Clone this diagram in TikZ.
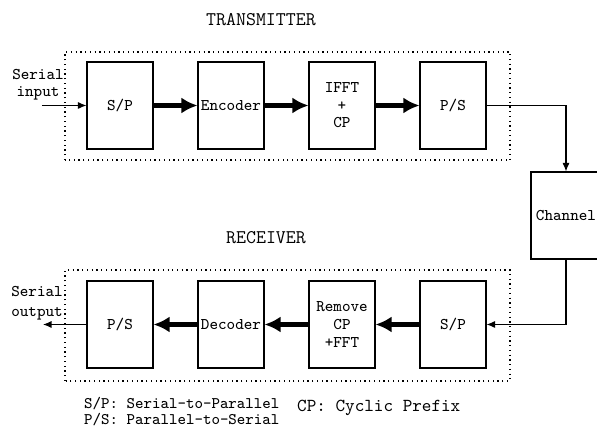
\documentclass[tikz,border=0pt]{standalone}
\usetikzlibrary{arrows.meta}

\newcommand\blockfont{\ttfamily\fontsize{9.3}{10}\selectfont}
\newcommand\titlefont{\ttfamily\fontsize{11}{12}\selectfont}

\tikzset{
  block/.style={draw, line width=0.6pt, minimum width=1.32cm, minimum height=1.74cm, inner sep=1pt, align=center},
  bus/.style={line width=2.8pt, -{Latex[length=0.32cm,width=0.32cm]}},
  wire/.style={line width=0.6pt, -{Latex[length=0.17cm,width=0.14cm]}},
  frame/.style={dotted, line width=0.7pt},
}

\begin{document}
\begin{tikzpicture}[font=\blockfont]
\useasboundingbox (0,0) rectangle (11.94,8.52);

% transmitter
\begin{scope}
\draw[frame] (1.30,5.32) rectangle (10.20,7.48);
\node (txlabel) at (5.22,8.12) {\titlefont TRANSMITTER};
\node[block] (sp1) at (2.40,6.41) {S/P};
\node[block] (enc) at (4.62,6.41) {Encoder};
\node[block] (ifft) at (6.84,6.41) {IFFT\\+\\CP};
\node[block] (ps1) at (9.06,6.41) {P/S};
\node[align=center, font=\ttfamily\fontsize{9.3}{9.6}\selectfont] (inlabel) at (0.76,6.82) {Serial\\input};
\coordinate (in) at (0.84,6.41);
\draw[wire] (in) -- (sp1);
\draw[bus] (sp1) -- (enc);
\draw[bus] (enc) -- (ifft);
\draw[bus] (ifft) -- (ps1);
\end{scope}

% channel
\node[block, minimum width=1.40cm] (chan) at (11.32,4.21) {Channel};
\draw[wire] (ps1.east) -| (chan.north);

% receiver
\begin{scope}
\draw[frame] (1.30,0.90) rectangle (10.20,3.12);
\node (rxlabel) at (5.32,3.76) {\titlefont RECEIVER};
\node[block] (ps2) at (2.40,2.03) {P/S};
\node[block] (dec) at (4.62,2.03) {Decoder};
\node[block] (rmcp) at (6.84,2.03) {Remove\\CP\\+FFT};
\node[block] (sp2) at (9.06,2.03) {S/P};
\node[align=center, font=\ttfamily\fontsize{9.3}{11.3}\selectfont] (outlabel) at (0.74,2.46) {Serial\\output};
\coordinate (out) at (0.86,2.03);
\draw[wire] (chan.south) |- (sp2.east);
\draw[bus] (sp2) -- (rmcp);
\draw[bus] (rmcp) -- (dec);
\draw[bus] (dec) -- (ps2);
\draw[wire] (ps2) -- (out);
\end{scope}

% abbreviations
\node[anchor=west, align=left, font=\ttfamily\fontsize{9.2}{9.2}\selectfont] (legsp) at (1.56,0.29) {S/P: Serial-to-Parallel\\P/S: Parallel-to-Serial};
\node[anchor=west] (legcp) at (5.82,0.37) {\fontsize{10.4}{11}\selectfont CP: Cyclic Prefix};

\end{tikzpicture}
\end{document}
